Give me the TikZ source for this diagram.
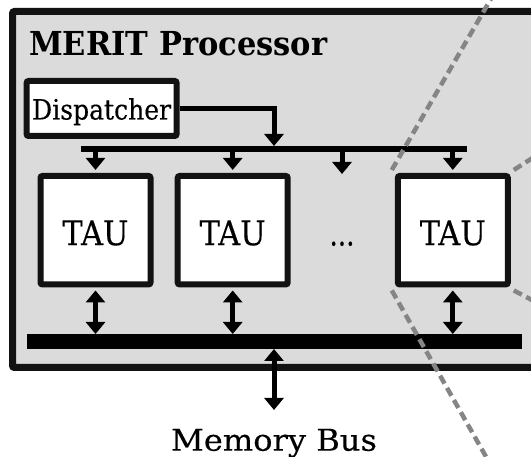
\documentclass[tikz,border=0pt]{standalone}
\usepackage{graphicx}
\usepackage{fontspec}
\setmainfont{DejaVu Serif}
\newfontfamily\textface{DejaVu Serif}[FakeBold=0.3]
\usetikzlibrary{arrows.meta}
\pgfdeclarelayer{back}
\pgfdeclarelayer{mid}
\pgfsetlayers{back,mid,main}
\definecolor{panel}{gray}{0.86}
\definecolor{ink}{gray}{0.07}
\definecolor{zoomline}{gray}{0.52}
% stretch a piece of text to a given width, keeping its height
\newcommand\fitw[2]{\resizebox{#1}{\height}{#2}}
\begin{document}
\begin{tikzpicture}[x=1pt,y=-1pt,
  frame/.style={draw=ink, line width=6pt, rounded corners=2pt},
  unitbox/.style={frame, fill=white, minimum width=110pt, minimum height=108.5pt,
    inner sep=0pt, text height=30pt, text depth=0pt},
  wire/.style={line width=5pt, draw=black},
  onearrow/.style={wire, -{Triangle[width=19pt,length=12pt]}},
  twoarrow/.style={wire, {Triangle[width=19pt,length=12pt]}-{Triangle[width=19pt,length=12pt]}},
  zoomed/.style={draw=zoomline, line width=4.5pt, dash pattern=on 9pt off 5pt},
  label/.style={inner sep=0pt}
]
\useasboundingbox (0,0) rectangle (531,457);
\clip (0,0) rectangle (531,457);

% processor panel, running off the right edge
\begin{pgfonlayer}{back}
  \draw[frame, line width=7pt, fill=panel] (12.5,11.5) rectangle (570,367.5);
\end{pgfonlayer}

\node[label, anchor=base west] (title) at (29,56)
  {\fitw{298pt}{\fontsize{33pt}{36pt}\selectfont\bfseries MERIT Processor}};

% dispatch line and memory bus
\coordinate (barL) at (81,148.7);
\coordinate (barR) at (467,148.7);
\coordinate (busL) at (27,341.3);
\coordinate (busR) at (521.5,341.3);
\coordinate (busTop) at (274,334);
\coordinate (busBot) at (274,349);
\coordinate (barTop) at (274,146);
\coordinate (gapTop) at (342,148.7);
\coordinate (gapEnd) at (342,174);
\coordinate (memEnd) at (274,410);
\begin{pgfonlayer}{back}
  \draw[line width=6pt] (barL) -- (barR);
  \draw[line width=15pt] (busL) -- (busR);
\end{pgfonlayer}

% dispatcher
\node[frame, fill=white, minimum width=150pt, minimum height=55pt, inner sep=0pt,
  text height=24pt, text depth=2pt] (disp) at (101.6,108.5)
  {\fitw{139pt}{\fontsize{28pt}{30pt}\textface Dispatcher}};
\draw[onearrow] (disp.east) -| (barTop);

% thread array units
\node[unitbox] (t1) at (95.5,230.2) {\fitw{66pt}{\fontsize{34pt}{36pt}\textface TAU}};
\node[unitbox] (t2) at (232.7,230.2) {\fitw{66pt}{\fontsize{34pt}{36pt}\textface TAU}};
\node[unitbox] (t3) at (452.8,230.2) {\fitw{66pt}{\fontsize{34pt}{36pt}\textface TAU}};
\node[label, anchor=base] (dots) at (342,245.5)
  {\fitw{25pt}{\fontsize{34pt}{36pt}\textface ...}};

\foreach \u in {t1,t2,t3} {
  \draw[onearrow] (\u.north |- barL) -- ([yshift=3pt]\u.north);
  \draw[twoarrow] ([yshift=-3pt]\u.south) -- (\u.south |- busTop);
}
\draw[onearrow] (gapTop) -- (gapEnd);

% memory bus link
\draw[twoarrow] (busBot) -- (memEnd);
\node[label, anchor=base] (mem) at (274,450.7)
  {\fitw{206pt}{\fontsize{30pt}{33pt}\textface Memory Bus}};

% zoom guides from the last unit
\begin{pgfonlayer}{mid}
  \draw[zoomed] ([xshift=-3pt,yshift=3pt]t3.north west) -- ++(106,-183);
  \draw[zoomed] ([xshift=-3pt,yshift=-3pt]t3.south west) -- ++(102,180);
  \draw[zoomed] ([xshift=3pt,yshift=3pt]t3.north east) -- ++(36,-23);
  \draw[zoomed] ([xshift=3pt,yshift=-3pt]t3.south east) -- ++(36,19);
\end{pgfonlayer}
\end{tikzpicture}
\end{document}
